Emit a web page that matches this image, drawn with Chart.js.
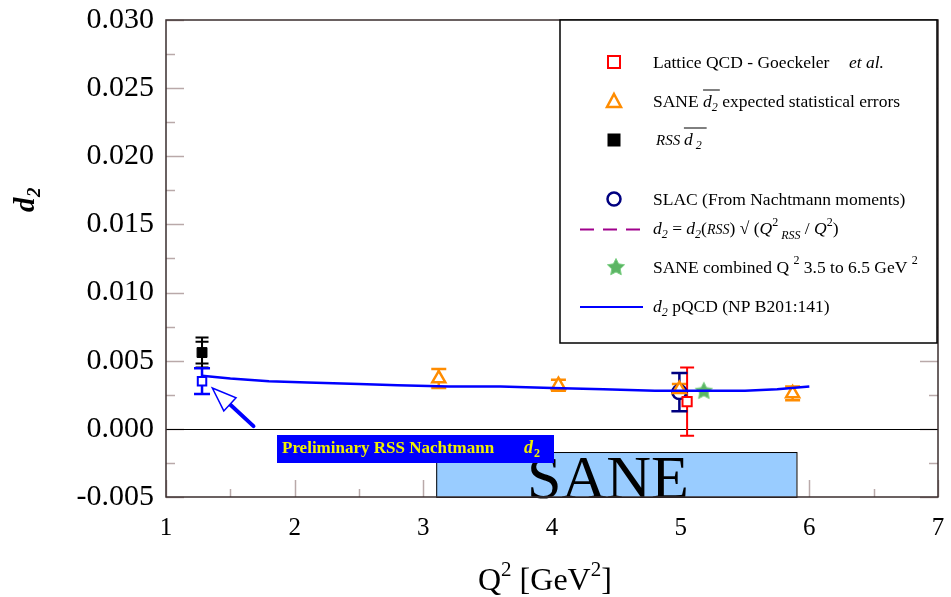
<!DOCTYPE html>
<html>
<head>
<meta charset="utf-8">
<script src="https://cdn.jsdelivr.net/npm/chart.js@4.4.0/dist/chart.umd.min.js"></script>
<style>
  html, body { margin: 0; padding: 0; background: #fff; }
  #wrap { width: 951px; height: 597px; }
</style>
</head>
<body>
<div id="wrap"><canvas id="chart"></canvas></div>
<script>
// pQCD curve
const pqcdQ2 = [1.28, 1.5, 1.8, 2.1, 2.5, 2.8, 3.2, 3.6, 4.0, 4.4, 4.8, 5.2, 5.5, 5.75, 6.0];
const pqcdD2 = [0.0039, 0.0037, 0.0035, 0.0034, 0.0033, 0.0032, 0.0031, 0.0031, 0.0030, 0.0029, 0.0028, 0.0028, 0.0028, 0.0029, 0.0031];

// Preliminary RSS Nachtmann d2 (open blue square)
const nachtQ2 = [1.28];
const nachtD2 = [0.0035];
const nachtErr = [0.00095];

// RSS d2 (black square), two error sets
const rssQ2 = [1.28];
const rssD2 = [0.0056];
const rssStatErr = [0.0008];
const rssTotErr = [0.0011];

// SANE expected statistical errors (orange triangles)
const saneQ2 = [3.12, 4.05, 4.99, 5.87];
const saneD2 = [0.0037, 0.0032, 0.0029, 0.0026];
const saneErr = [0.0007, 0.0004, 0.0004, 0.0005];

// SLAC (navy circle)
const slacQ2 = [4.99];
const slacD2 = [0.0027];
const slacErr = [0.0014];

// Lattice QCD (red square)
const latticeQ2 = [5.05];
const latticeD2 = [0.0020];
const latticeErr = [0.0025];

// SANE combined (green star)
const combQ2 = [5.18];
const combD2 = [0.0028];

// SANE kinematic band and arrow (data coordinates)
const saneBandQ2 = [3.1, 5.9];
const saneBandD2 = [-0.005, -0.0017];
const arrowQ2 = [1.68, 1.36];
const arrowD2 = [0.0002, 0.0030];

const serif = "'Liberation Serif', 'DejaVu Serif', serif";

function pts(xs, ys) { return xs.map((x, i) => ({ x: x, y: ys[i] })); }

// green star marker
function makeStar(size) {
  const c = document.createElement('canvas');
  c.width = size; c.height = size;
  const g = c.getContext('2d');
  const cx = size / 2, cy = size / 2 + 0.5, R = size / 2 - 1, r = R * 0.5;
  g.beginPath();
  for (let i = 0; i < 10; i++) {
    const a = -Math.PI / 2 + i * Math.PI / 5;
    const rr = i % 2 === 0 ? R : r;
    g.lineTo(cx + rr * Math.cos(a), cy + rr * Math.sin(a));
  }
  g.closePath();
  g.fillStyle = '#5cb564';
  g.fill();
  g.strokeStyle = '#7ccf84';
  g.lineWidth = 1;
  g.stroke();
  return c;
}
const starImg = makeStar(20);

const errorSets = [
  { x: rssQ2, y: rssD2, err: rssTotErr, color: '#000', cap: 6.5, lw: 2 },
  { x: rssQ2, y: rssD2, err: rssStatErr, color: '#000', cap: 6.5, lw: 2 },
  { x: nachtQ2, y: nachtD2, err: nachtErr, color: '#0000ff', cap: 8, lw: 2.5 },
  { x: saneQ2, y: saneD2, err: saneErr, color: '#ff8c00', cap: 7.5, lw: 2.5 },
  { x: latticeQ2, y: latticeD2, err: latticeErr, color: '#ff0000', cap: 7, lw: 2 },
  { x: slacQ2, y: slacD2, err: slacErr, color: '#000080', cap: 8, lw: 2.5 }
];

// draw text made of segments: [text, font, dy, overline]
function drawRich(ctx, x, y, segs) {
  let cx = x;
  segs.forEach(s => {
    ctx.font = s[1];
    ctx.fillText(s[0], cx, y + (s[2] || 0));
    const w = ctx.measureText(s[0]).width;
    if (s[3]) {
      ctx.save();
      ctx.lineWidth = 1;
      ctx.beginPath();
      ctx.moveTo(cx, y - 17);
      ctx.lineTo(cx + w + s[3], y - 17);
      ctx.stroke();
      ctx.restore();
    }
    cx += w;
  });
  return cx;
}

function marker(ctx, type, x, y) {
  ctx.save();
  if (type === 'rect') {
    ctx.strokeStyle = '#ff0000'; ctx.lineWidth = 2;
    ctx.strokeRect(x - 6, y - 6, 12, 12);
  } else if (type === 'tri') {
    ctx.strokeStyle = '#ff8c00'; ctx.lineWidth = 2.5;
    ctx.beginPath();
    ctx.moveTo(x, y - 7); ctx.lineTo(x + 7, y + 6); ctx.lineTo(x - 7, y + 6); ctx.closePath();
    ctx.stroke();
  } else if (type === 'fill') {
    ctx.fillStyle = '#000';
    ctx.fillRect(x - 6.5, y - 6.5, 13, 13);
  } else if (type === 'circ') {
    ctx.strokeStyle = '#000080'; ctx.lineWidth = 2.5;
    ctx.beginPath(); ctx.arc(x, y, 6.5, 0, Math.PI * 2); ctx.stroke();
  } else if (type === 'star') {
    ctx.drawImage(starImg, x - 10, y - 10);
  }
  ctx.restore();
}

const decorPlugin = {
  id: 'decor',
  beforeDatasetsDraw(chart) {
    const ctx = chart.ctx, xs = chart.scales.x, ys = chart.scales.y, a = chart.chartArea;
    ctx.save();
    // inner tick marks
    ctx.strokeStyle = '#b9a9a9';
    ctx.lineWidth = 1.5;
    for (let v = -0.005; v <= 0.0301; v += 0.0025) {
      const p = Math.round(ys.getPixelForValue(v)) + 0.5;
      const major = Math.abs(Math.round(v / 0.005) * 0.005 - v) < 1e-6;
      const len = major ? 18 : 9;
      ctx.beginPath(); ctx.moveTo(a.left, p); ctx.lineTo(a.left + len, p); ctx.stroke();
      ctx.beginPath(); ctx.moveTo(a.right, p); ctx.lineTo(a.right - len, p); ctx.stroke();
    }
    for (let v = 1; v <= 7.001; v += 0.5) {
      const p = Math.round(xs.getPixelForValue(v)) + 0.5;
      const major = Math.abs(v - Math.round(v)) < 1e-6;
      const len = major ? 17 : 8;
      ctx.beginPath(); ctx.moveTo(p, a.bottom); ctx.lineTo(p, a.bottom - len); ctx.stroke();
    }
    // zero line
    ctx.strokeStyle = '#000';
    ctx.lineWidth = 1;
    const z = Math.round(ys.getPixelForValue(0)) + 0.5;
    ctx.beginPath(); ctx.moveTo(a.left, z); ctx.lineTo(a.right, z); ctx.stroke();

    // SANE band
    const bx0 = xs.getPixelForValue(saneBandQ2[0]), bx1 = xs.getPixelForValue(saneBandQ2[1]);
    const by0 = ys.getPixelForValue(saneBandD2[1]), by1 = ys.getPixelForValue(saneBandD2[0]);
    ctx.fillStyle = '#99ccff';
    ctx.fillRect(bx0, by0, bx1 - bx0, by1 - by0);
    ctx.strokeStyle = '#000'; ctx.lineWidth = 1;
    ctx.strokeRect(bx0 + 0.5, by0 + 0.5, bx1 - bx0, by1 - by0);
    ctx.fillStyle = '#000';
    ctx.font = '62px ' + serif;
    ctx.textBaseline = 'alphabetic';
    ctx.fillText('SANE', 527, by1 + 1);

    // preliminary label box
    ctx.fillStyle = '#0000ff';
    ctx.fillRect(277, 435, 277, 28);
    ctx.fillStyle = '#f0f000';
    ctx.font = 'bold 17px ' + serif;
    ctx.fillText('Preliminary RSS Nachtmann', 282, 453);
    ctx.font = 'bold italic 18px ' + serif;
    ctx.fillText('d', 524, 453);
    ctx.font = 'bold 12px ' + serif;
    ctx.fillText('2', 534, 457);

    // error bars
    errorSets.forEach(s => {
      ctx.strokeStyle = s.color;
      ctx.lineWidth = s.lw;
      s.x.forEach((q, i) => {
        const px = xs.getPixelForValue(q);
        const top = ys.getPixelForValue(s.y[i] + s.err[i]);
        const bot = ys.getPixelForValue(s.y[i] - s.err[i]);
        ctx.beginPath();
        ctx.moveTo(px, top); ctx.lineTo(px, bot);
        ctx.moveTo(px - s.cap, top); ctx.lineTo(px + s.cap, top);
        ctx.moveTo(px - s.cap, bot); ctx.lineTo(px + s.cap, bot);
        ctx.stroke();
      });
    });
    ctx.restore();
  },
  afterDraw(chart) {
    const ctx = chart.ctx, xs = chart.scales.x, ys = chart.scales.y, a = chart.chartArea;
    ctx.save();
    // arrow
    const tx = xs.getPixelForValue(arrowQ2[0]), ty = ys.getPixelForValue(arrowD2[0]);
    const hx = xs.getPixelForValue(arrowQ2[1]), hy = ys.getPixelForValue(arrowD2[1]);
    const ang = Math.atan2(hy - ty, hx - tx);
    const hl = 24, hw = 9;
    const bx = hx - hl * Math.cos(ang), by = hy - hl * Math.sin(ang);
    ctx.strokeStyle = '#0000ff';
    ctx.lineWidth = 4;
    ctx.lineCap = 'round';
    ctx.beginPath(); ctx.moveTo(tx, ty); ctx.lineTo(bx + 6 * Math.cos(ang), by + 6 * Math.sin(ang)); ctx.stroke();
    ctx.lineWidth = 1.5;
    ctx.lineCap = 'butt';
    ctx.fillStyle = '#fff';
    ctx.beginPath();
    ctx.moveTo(hx, hy);
    ctx.lineTo(bx + hw * Math.sin(ang), by - hw * Math.cos(ang));
    ctx.lineTo(bx - hw * Math.sin(ang), by + hw * Math.cos(ang));
    ctx.closePath();
    ctx.fill(); ctx.stroke();

    // frame
    ctx.strokeStyle = '#3a2e2e';
    ctx.lineWidth = 1.5;
    ctx.strokeRect(a.left, a.top, a.right - a.left, a.bottom - a.top);

    // legend box
    const L = { x: 560, y: 20, w: 377, h: 323 };
    ctx.fillStyle = '#fff';
    ctx.fillRect(L.x, L.y, L.w, L.h);
    ctx.strokeStyle = '#000';
    ctx.lineWidth = 1.5;
    ctx.strokeRect(L.x, L.y, L.w, L.h);

    ctx.fillStyle = '#000';
    ctx.textBaseline = 'alphabetic';
    const f = '17.5px ' + serif, fi = 'italic 17.5px ' + serif, fs = '12px ' + serif, fsi = 'italic 12px ' + serif;
    const tx0 = 653;
    marker(ctx, 'rect', 614, 62);
    drawRich(ctx, tx0, 68, [['Lattice QCD - Goeckeler', f]]);
    drawRich(ctx, 849, 68, [['et al.', fi]]);

    marker(ctx, 'tri', 614, 101);
    ctx.strokeStyle = '#000';
    drawRich(ctx, tx0, 107, [['SANE ', f], ['d', fi, 0, 8], ['2', fsi, 4], [' expected statistical errors', f]]);

    marker(ctx, 'fill', 614, 140);
    drawRich(ctx, tx0 + 3, 145, [['RSS ', 'italic 15px ' + serif], ['d', fi, 0, 14], [' 2', fsi, 4]]);

    marker(ctx, 'circ', 614, 199);
    drawRich(ctx, tx0, 205, [['SLAC (From Nachtmann moments)', f]]);

    ctx.strokeStyle = '#a0008c';
    ctx.lineWidth = 2;
    ctx.setLineDash([14, 9]);
    ctx.beginPath(); ctx.moveTo(580, 229.5); ctx.lineTo(643, 229.5); ctx.stroke();
    ctx.setLineDash([]);
    drawRich(ctx, tx0, 234, [['d', fi], ['2', fsi, 4], [' = ', f], ['d', fi], ['2', fsi, 4], ['(', f], ['RSS', 'italic 14px ' + serif], [')', f],
      [' \u221A (', f], ['Q', fi], ['2', fs, -8], [' RSS', 'italic 12px ' + serif, 5], [' / ', f], ['Q', fi], ['2', fs, -8], [')', f]]);

    marker(ctx, 'star', 616, 267);
    drawRich(ctx, tx0, 273, [['SANE combined Q ', f], ['2', fs, -9], [' 3.5 to 6.5 GeV ', f], ['2', fs, -9]]);

    ctx.strokeStyle = '#0000ff';
    ctx.lineWidth = 2;
    ctx.beginPath(); ctx.moveTo(580, 307); ctx.lineTo(643, 307); ctx.stroke();
    drawRich(ctx, tx0, 312, [['d', fi], ['2', fsi, 4], [' pQCD (NP B201:141)', f]]);

    // axis titles
    ctx.save();
    ctx.translate(34, 212);
    ctx.rotate(-Math.PI / 2);
    ctx.font = 'bold italic 29px ' + serif;
    ctx.fillText('d', 0, 0);
    ctx.font = 'bold italic 19px ' + serif;
    ctx.fillText('2', 15, 6);
    ctx.restore();

    drawRich(ctx, 478, 590, [['Q', '32px ' + serif], ['2', '21px ' + serif, -14], [' [GeV', '32px ' + serif], ['2', '21px ' + serif, -14], [']', '32px ' + serif]]);
    ctx.restore();
  }
};

new Chart(document.getElementById('chart'), {
  type: 'scatter',
  data: {
    datasets: [
      {
        label: 'd2 pQCD (NP B201:141)',
        type: 'line',
        data: pts(pqcdQ2, pqcdD2),
        borderColor: '#0000ff',
        borderWidth: 2.5,
        pointRadius: 0,
        fill: false,
        tension: 0
      },
      {
        label: 'Preliminary RSS Nachtmann d2',
        data: pts(nachtQ2, nachtD2),
        pointStyle: 'rect',
        pointRadius: 6,
        borderColor: '#0000ff',
        backgroundColor: '#fff',
        borderWidth: 2
      },
      {
        label: 'RSS d2',
        data: pts(rssQ2, rssD2),
        pointStyle: 'rect',
        pointRadius: 7,
        borderColor: '#000',
        backgroundColor: '#000',
        borderWidth: 1
      },
      {
        label: 'SANE d2 expected statistical errors',
        data: pts(saneQ2, saneD2),
        pointStyle: 'triangle',
        pointRadius: 7.5,
        borderColor: '#ff8c00',
        backgroundColor: '#fff',
        borderWidth: 2.5
      },
      {
        label: 'Lattice QCD - Goeckeler et al.',
        data: pts(latticeQ2, latticeD2),
        pointStyle: 'rect',
        pointRadius: 6.5,
        borderColor: '#ff0000',
        backgroundColor: '#fff',
        borderWidth: 2
      },
      {
        label: 'SLAC (From Nachtmann moments)',
        data: pts(slacQ2, slacD2),
        pointStyle: 'circle',
        pointRadius: 7,
        borderColor: '#000080',
        backgroundColor: '#fff',
        borderWidth: 2.5
      },
      {
        label: 'SANE combined Q2 3.5 to 6.5 GeV2',
        data: pts(combQ2, combD2),
        pointStyle: starImg
      }
    ]
  },
  options: {
    responsive: true,
    maintainAspectRatio: false,
    animation: false,
    layout: { padding: { top: 20, right: 13, left: 0, bottom: 0 } },
    plugins: {
      legend: { display: false },
      tooltip: { enabled: false }
    },
    scales: {
      x: {
        type: 'linear',
        min: 1,
        max: 7,
        afterFit: s => { s.height = 100; s.paddingLeft = 0; s.paddingRight = 0; },
        grid: { display: false, drawTicks: false },
        border: { display: false },
        ticks: {
          stepSize: 1,
          padding: 16,
          color: '#000',
          font: { family: serif, size: 25 }
        }
      },
      y: {
        min: -0.005,
        max: 0.030,
        afterFit: s => { s.width = 166; s.paddingTop = 0; s.paddingBottom = 0; },
        grid: { display: false, drawTicks: false },
        border: { display: false },
        ticks: {
          stepSize: 0.005,
          padding: 12,
          color: '#000',
          font: { family: serif, size: 30 },
          callback: v => (Math.abs(v) < 1e-9 ? 0 : v).toFixed(3)
        }
      }
    }
  },
  plugins: [decorPlugin]
});
</script>
</body>
</html>
